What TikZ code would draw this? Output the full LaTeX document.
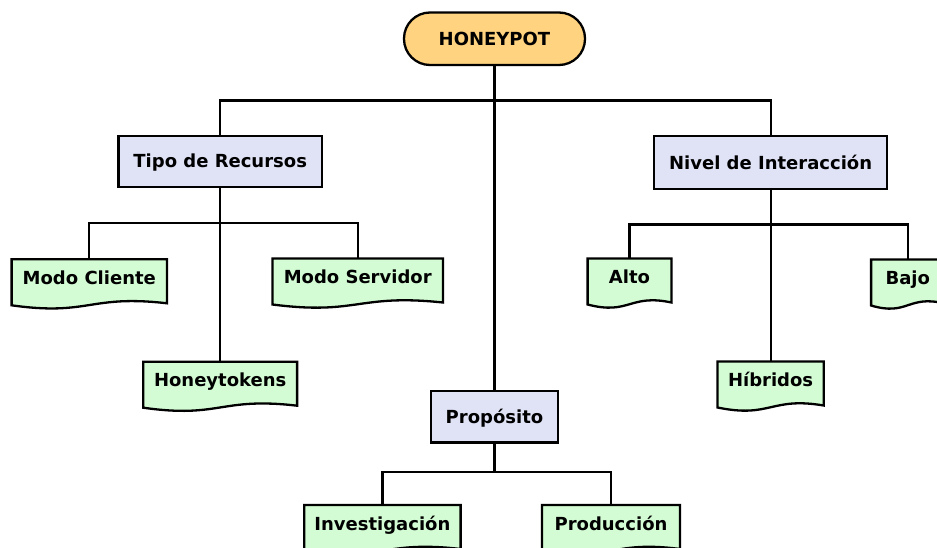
\documentclass[tikz,border=0pt]{standalone}
\usepackage{fontspec}
\setmainfont{DejaVu Sans}
\usetikzlibrary{calc,backgrounds}

\definecolor{hpfill}{HTML}{FFD37F}
\definecolor{catfill}{HTML}{E0E3F6}
\definecolor{leaffill}{HTML}{D4FCD4}

\tikzset{
  lbl/.style={font=\fontsize{18}{21}\selectfont\bfseries,
    text height=13pt, text depth=0pt, inner sep=0pt},
  rootbox/.style={lbl, draw, line width=2.3pt, fill=hpfill,
    rounded corners=26pt, minimum width=181pt, minimum height=52.5pt},
  catbox/.style={lbl, draw, line width=2.3pt, fill=catfill},
  leafbox/.style={lbl, minimum height=37pt, anchor=north},
  leafshape/.style={draw, line width=2.3pt, fill=leaffill},
  link/.style={line width=2.2pt},
}

% document-like outline with a wavy lower edge around a leaf node
\newcommand\leafoutline[1]{%
  \path[leafshape] (#1.north west) -- (#1.north east)
    -- ($(#1.north east)+(0,44)$)
    .. controls ($(#1.north)+(0,35)$) and ($(#1.north)+(0,57)$)
    .. ($(#1.north west)+(0,46)$) -- cycle;}

\begin{document}
\begin{tikzpicture}[x=1pt,y=-1pt]
  \useasboundingbox (0,0) rectangle (937,548);
  \clip (0,0) rectangle (937,548);

  % root and category boxes
  \node[rootbox] (root) at (494.5,38.75) {HONEYPOT};
  \node[catbox, minimum width=203.5pt, minimum height=51pt] (tipo) at (220.2,161.5) {Tipo de Recursos};
  \node[catbox, minimum width=233pt, minimum height=53pt] (nivel) at (770.6,162.6) {Nivel de Interacción};
  \node[catbox, minimum width=126.7pt, minimum height=51.3pt] (prop) at (494.5,416.7) {Propósito};

  % leaf labels
  \node[leafbox, minimum width=155pt] (cliente) at (89.3,259.3) {Modo Cliente};
  \node[leafbox, minimum width=170pt] (servidor) at (357.7,258.5) {Modo Servidor};
  \node[leafbox, minimum width=153.4pt] (honey) at (220.2,361.7) {Honeytokens};
  \node[leafbox, minimum width=83.4pt] (alto) at (629.5,258.5) {Alto};
  \node[leafbox, minimum width=73pt] (bajo) at (907.8,259.5) {Bajo};
  \node[leafbox, minimum width=105.7pt] (hib) at (770.6,361.5) {Híbridos};
  \node[leafbox, minimum width=156pt] (inv) at (382.4,505) {Investigación};
  \node[leafbox, minimum width=137.6pt] (prod) at (611,505) {Producción};

  % bus levels
  \coordinate (b0) at (0,100.6);
  \coordinate (b1) at (0,223.4);
  \coordinate (b2) at (0,224.6);
  \coordinate (b3) at (0,471.8);

  \begin{pgfonlayer}{background}
    \clip (0,0) rectangle (937,548);
    % connectors
    \draw[link] (root.south) -- (prop.north);
    \draw[link] (tipo.north) -- (tipo.north |- b0) -- (nivel.north |- b0) -- (nivel.north);
    \draw[link] (tipo.south) -- (honey.north);
    \draw[link] (cliente.north) -- (cliente.north |- b1) -- (servidor.north |- b1) -- (servidor.north);
    \draw[link] (nivel.south) -- (hib.north);
    \draw[link] (alto.north) -- (alto.north |- b2) -- (bajo.north |- b2) -- (bajo.north);
    \draw[link] (prop.south) -- (prop.south |- b3);
    \draw[link] (inv.north) -- (inv.north |- b3) -- (prod.north |- b3) -- (prod.north);
    % leaf outlines
    \leafoutline{cliente}
    \leafoutline{servidor}
    \leafoutline{honey}
    \leafoutline{alto}
    \leafoutline{bajo}
    \leafoutline{hib}
    \leafoutline{inv}
    \leafoutline{prod}
  \end{pgfonlayer}
\end{tikzpicture}
\end{document}
